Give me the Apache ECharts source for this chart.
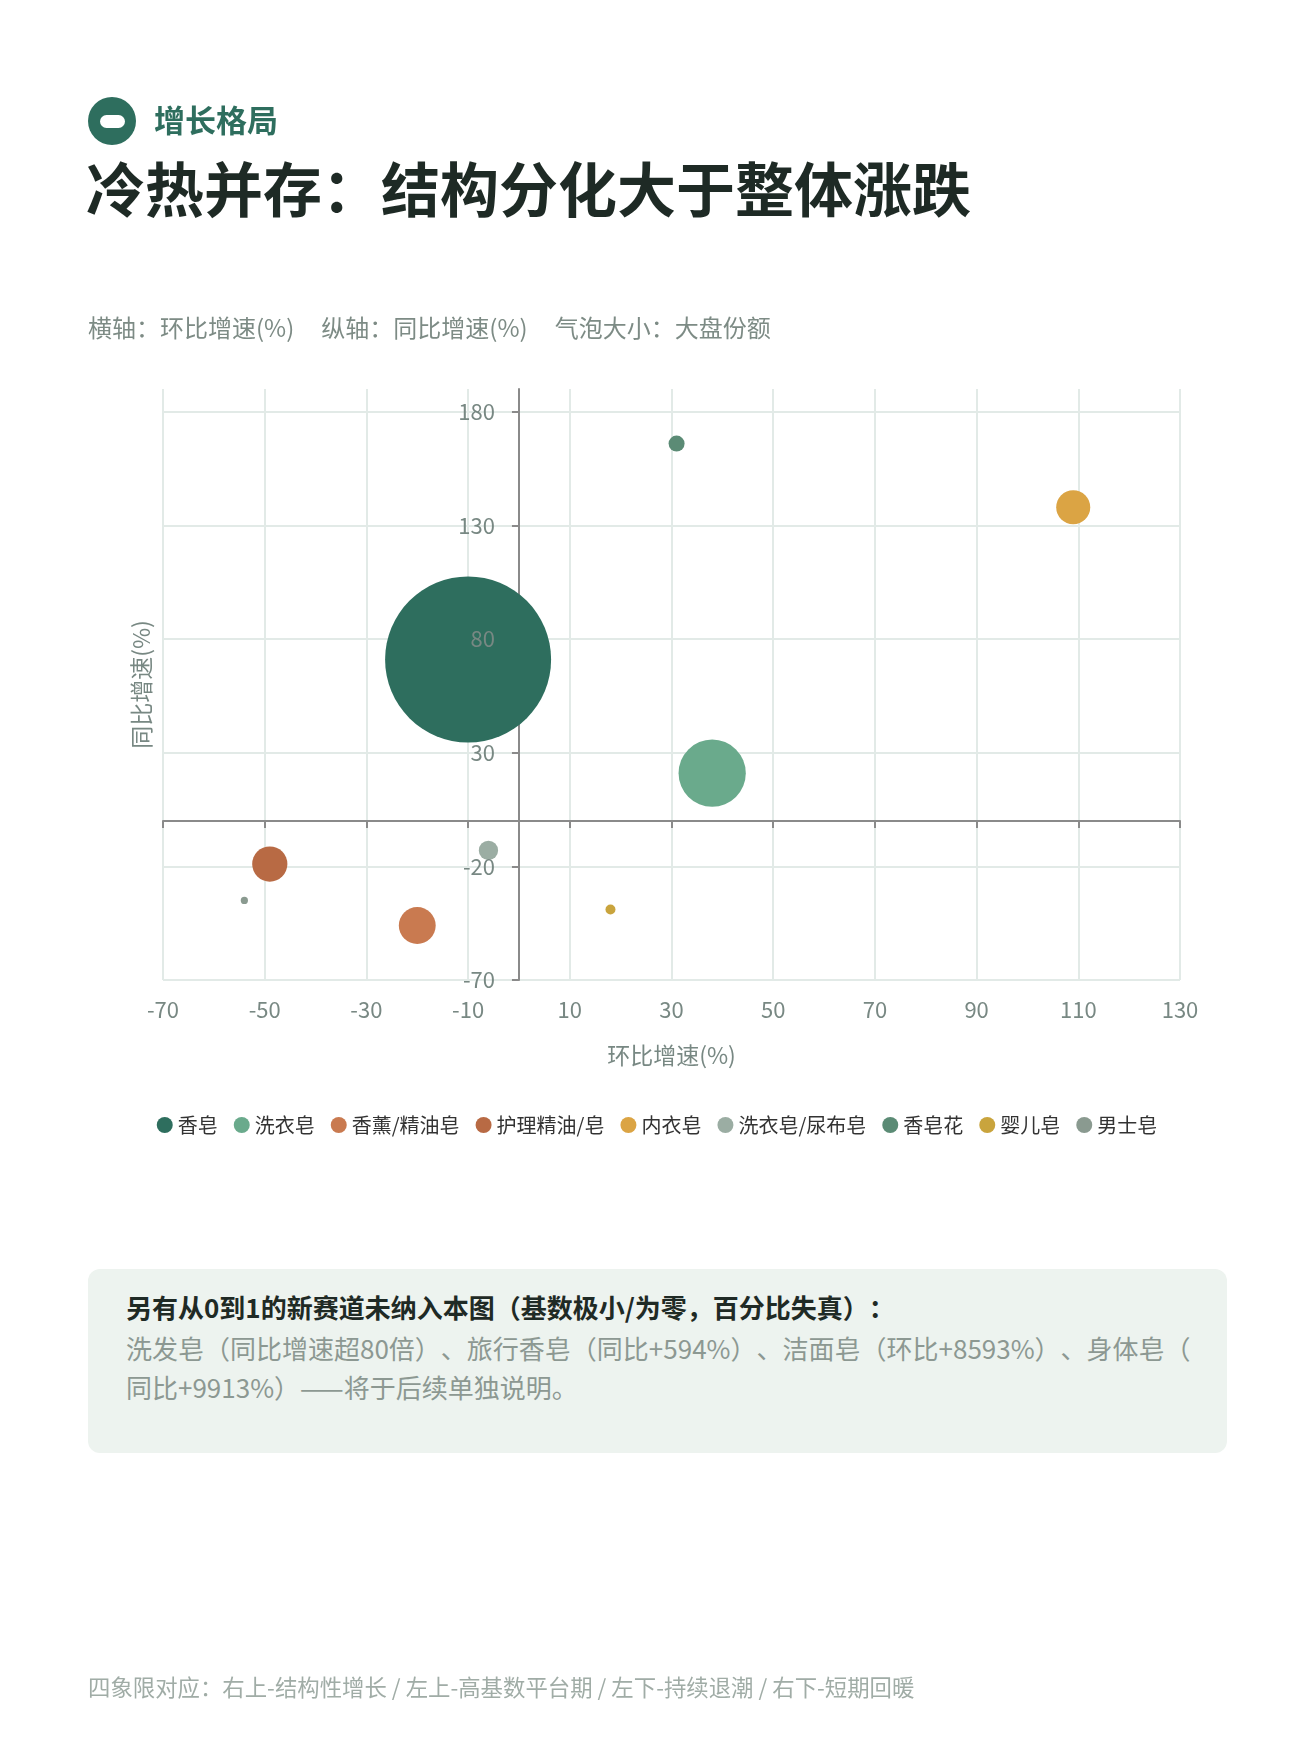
<!DOCTYPE html>
<html>
<head>
<meta charset="utf-8">
<script src="https://cdn.jsdelivr.net/npm/echarts@6/dist/echarts.min.js"></script>
<style>
body{margin:0;background:#fff;}
#page{position:relative;width:1314px;height:1753px;overflow:hidden;background:#fff;font-family:'Noto Sans CJK SC','Noto Sans',sans-serif;text-spacing-trim:space-all;}
#chart{position:absolute;left:0;top:0;width:1314px;height:1753px;}
.abs{position:absolute;white-space:nowrap;}
</style>
</head>
<body>
<div id="page">
  <div id="chart"></div>
  <div class="abs" style="left:88px;top:97px;width:48px;height:48px;border-radius:50%;background:#2e6e5e;">
    <div style="position:absolute;left:11.5px;top:17.5px;width:25px;height:13px;border-radius:6.5px;background:#fff;"></div>
  </div>
  <div class="abs" style="left:154px;top:99px;font-size:31px;line-height:40px;font-weight:700;color:#2e6e5e;">增长格局</div>
  <div class="abs" style="left:86px;top:152px;font-size:59px;line-height:70px;font-weight:700;color:#1e2a25;">冷热并存：结构分化大于整体涨跌</div>
  <div class="abs" style="left:88px;top:311px;font-size:24px;line-height:32px;color:#7d8b85;"><span>横轴：环比增速(%)</span><span style="margin-left:27px">纵轴：同比增速(%)</span><span style="margin-left:27px">气泡大小：大盘份额</span></div>
  <div class="abs" style="left:88px;top:1269px;width:1139px;height:184px;box-sizing:border-box;padding:18px 38px 0 38px;background:#edf3ef;border-radius:12px;white-space:normal;">
    <div style="font-size:26px;line-height:39px;font-weight:700;color:#1f2a25;margin-bottom:2px;white-space:nowrap;">另有从0到1的新赛道未纳入本图（基数极小/为零，百分比失真）：</div>
    <div style="font-size:26px;line-height:39px;color:#8c9892;white-space:nowrap;">洗发皂（同比增速超80倍）、旅行香皂（同比+594%）、洁面皂（环比+8593%）、身体皂（<br>同比+9913%）——将于后续单独说明。</div>
  </div>
  <div class="abs" style="left:88px;top:1671px;font-size:22.4px;line-height:30px;color:#a0aca6;">四象限对应：右上-结构性增长 / 左上-高基数平台期 / 左下-持续退潮 / 右下-短期回暖</div>
</div>
<script>
// ---- data ----
const categories = ['香皂', '洗衣皂', '香薰/精油皂', '护理精油/皂', '内衣皂', '洗衣皂/尿布皂', '香皂花', '婴儿皂', '男士皂'];
const momGrowth = [-10, 38, -20, -49, 109, -6, 31, 18, -54];      // 环比增速(%) x
const yoyGrowth = [71, 21, -46, -19, 138, -13, 166, -39, -35];     // 同比增速(%) y
const marketShare = [68.9, 11.3, 3.4, 3.1, 2.9, 0.93, 0.64, 0.25, 0.13]; // 大盘份额(%) bubble size
const palette = ['#2e6e5e', '#6aaa8c', '#c97a50', '#b86a44', '#dba444', '#9bada3', '#5b8b75', '#c9a43d', '#8a9a90'];
const xRange = [-70, 130];
const xStep = 20;
const yRange = [-70, 190];
const yStep = 50;
const yTickLabels = [-70, -20, 30, 80, 130, 180];

const FONT = "'Noto Sans CJK SC', 'Noto Sans', sans-serif";
const labelColor = '#788883';
const gridColor = '#e2eae7';
const axisColor = '#8a8a8a';
const gridBox = {left: 163, top: 389, width: 1017, height: 591};

const chart = echarts.init(document.getElementById('chart'), null, {renderer: 'canvas'});

const option = {
  animation: false,
  backgroundColor: 'transparent',
  grid: gridBox,
  legend: {
    data: categories,
    left: 'center',
    top: 1110,
    icon: 'circle',
    itemWidth: 16,
    itemHeight: 16,
    itemGap: 16,
    selectedMode: false,
    textStyle: {fontSize: 20, color: '#333', fontFamily: FONT}
  },
  xAxis: [
    {
      type: 'value', min: xRange[0], max: xRange[1], interval: xStep, position: 'bottom',
      axisLine: {show: false, onZero: false},
      axisTick: {show: false},
      axisLabel: {margin: 19, fontSize: 22, color: labelColor, fontFamily: FONT},
      splitLine: {show: true, lineStyle: {color: gridColor, width: 2}},
      name: '环比增速(%)', nameLocation: 'middle', nameGap: 64,
      nameTextStyle: {fontSize: 23, color: labelColor, fontFamily: FONT}
    },
    {
      type: 'value', min: xRange[0], max: xRange[1], interval: xStep, position: 'bottom',
      axisLine: {show: true, onZero: true, onZeroAxisIndex: 0, lineStyle: {color: axisColor, width: 2}},
      axisTick: {show: true, length: 7, lineStyle: {color: axisColor, width: 2}},
      axisLabel: {show: false},
      splitLine: {show: false}
    }
  ],
  yAxis: [
    {
      type: 'value', min: yRange[0], max: yRange[1], interval: yStep, position: 'left',
      axisLine: {show: false, onZero: false},
      axisTick: {show: false},
      axisLabel: {show: false},
      splitLine: {show: true, showMaxLine: false, lineStyle: {color: gridColor, width: 2}},
      name: '同比增速(%)', nameLocation: 'middle', nameGap: 10,
      nameTextStyle: {fontSize: 23, color: labelColor, fontFamily: FONT}
    },
    {
      type: 'value', min: yRange[0], max: yRange[1], interval: yStep, position: 'left',
      axisLine: {show: true, onZero: true, onZeroAxisIndex: 0, lineStyle: {color: axisColor, width: 2}},
      axisTick: {show: true, length: 7, lineStyle: {color: axisColor, width: 2}, customValues: yTickLabels},
      axisLabel: {show: false},
      splitLine: {show: false}
    },
    {
      type: 'value', min: yRange[0], max: yRange[1], interval: yStep, position: 'left', z: 10,
      axisLine: {show: true, onZero: true, onZeroAxisIndex: 1, lineStyle: {color: axisColor, width: 2, opacity: 0}},
      axisTick: {show: false},
      axisLabel: {show: true, margin: 24, fontSize: 22, color: labelColor, fontFamily: FONT, customValues: yTickLabels},
      splitLine: {show: false}
    }
  ],
  series: categories.map(function (name, i) {
    return {
      name: name,
      type: 'scatter',
      xAxisIndex: 0,
      yAxisIndex: 0,
      data: [[momGrowth[i], yoyGrowth[i], marketShare[i]]],
      symbolSize: function (d) { return Math.sqrt(d[2]) * 20; },
      itemStyle: {color: palette[i], opacity: 1},
      emphasis: {disabled: true}
    };
  })
};
chart.setOption(option);

// fallback: if the label axis did not snap to x = 0, shift it there with an offset
try {
  const labelAxis = chart.getModel().getComponent('yAxis', 2).axis;
  if (!labelAxis.onZero) {
    const zeroShift = (0 - xRange[0]) / (xRange[1] - xRange[0]) * gridBox.width;
    option.yAxis[2].axisLine.onZero = false;
    option.yAxis[2].offset = -zeroShift;
    chart.setOption(option, true);
  }
} catch (e) {}
</script>
</body>
</html>
